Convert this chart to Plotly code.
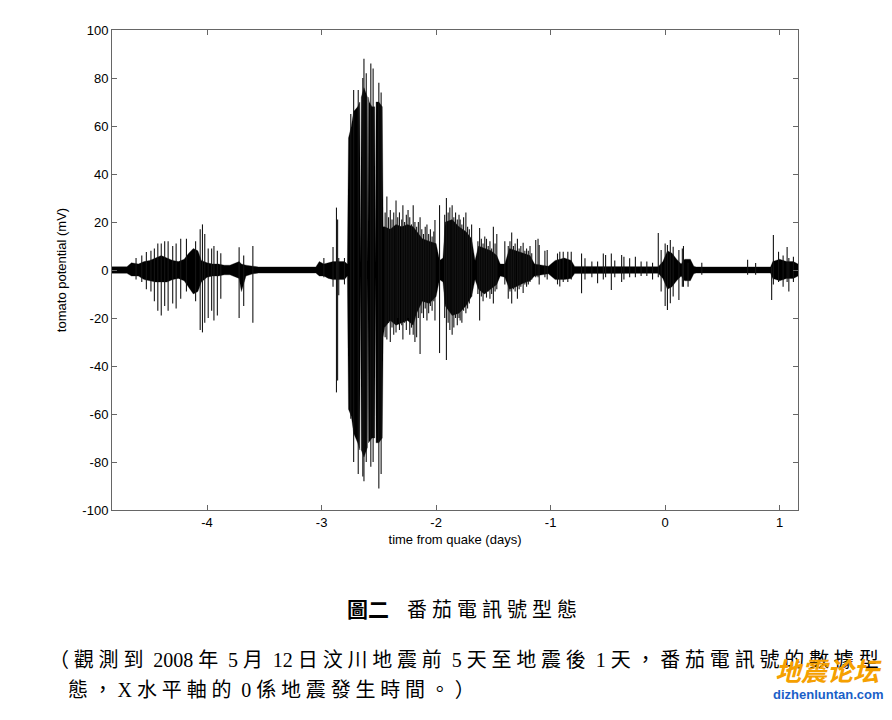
import re
import plotly.graph_objects as go

# ---- axis ticks ----
x_ticks = [-4, -3, -2, -1, 0, 1]
y_ticks = [-100, -80, -60, -40, -20, 0, 20, 40, 60, 80, 100]

# ---- dense signal envelope (days, upper mV, lower mV) ----
band_t = [-4.83, -4.70, -4.66, -4.60, -4.55, -4.50, -4.45, -4.40, -4.35, -4.30,
          -4.25, -4.20, -4.16, -4.12, -4.08, -4.05, -4.00, -3.95, -3.90, -3.85,
          -3.80, -3.72, -3.70, -3.66, -3.60, -3.55, -3.05, -3.02, -2.98, -2.94,
          -2.90, -2.86, -2.80, -2.775, -2.765, -2.74, -2.72, -2.685, -2.667, -2.660,
          -2.653, -2.63, -2.60, -2.596, -2.590, -2.584, -2.56, -2.536, -2.530, -2.524,
          -2.50, -2.47, -2.462, -2.45, -2.40, -2.35, -2.30, -2.25, -2.20, -2.17,
          -2.12, -2.06, -2.00, -1.97, -1.94, -1.92, -1.86, -1.80, -1.74, -1.69,
          -1.66, -1.63, -1.58, -1.52, -1.47, -1.44, -1.40, -1.36, -1.30, -1.24,
          -1.18, -1.14, -1.08, -1.02, -0.96, -0.88, -0.82, -0.79, -0.06, -0.02,
          0.02, 0.06, 0.10, 0.14, 0.17, 0.22, 0.25, 0.27, 0.92, 0.94,
          1.00, 1.06, 1.12, 1.16]
band_hi = [1.4, 1.4, 3.0, 2.5, 3.5, 4.0, 5.0, 6.0, 5.0, 4.0,
           3.5, 4.5, 7.0, 9.0, 8.0, 4.0, 3.0, 2.5, 2.5, 2.0,
           2.0, 3.5, 2.5, 2.0, 1.6, 1.3, 1.3, 3.5, 2.5, 3.0,
           3.5, 3.5, 3.5, 2.5, 55.0, 60.0, 66.0, 68.0, 70.0, 2.0,
           72.0, 76.0, 72.0, 2.0, 72.0, 70.0, 68.0, 68.0, 2.0, 70.0,
           70.0, 68.0, 18.0, 18.0, 17.0, 19.0, 18.0, 19.0, 18.0, 16.0,
           13.0, 12.0, 11.0, 4.0, 5.0, 20.0, 21.0, 18.0, 16.0, 13.0,
           4.0, 10.0, 9.0, 8.0, 6.0, 2.5, 2.5, 9.0, 8.0, 7.0,
           6.0, 2.5, 2.0, 1.6, 4.0, 5.0, 4.0, 1.5, 1.4, 3.5,
           8.0, 7.0, 4.5, 2.5, 4.5, 4.5, 1.6, 1.3, 1.3, 3.5,
           4.5, 3.5, 3.5, 2.5]
band_lo = [-1.4, -1.4, -2.5, -2.5, -4.0, -4.5, -5.0, -5.0, -5.0, -4.0,
           -3.5, -4.5, -7.0, -10.0, -9.0, -5.0, -3.0, -2.5, -2.5, -2.0,
           -2.0, -3.5, -9.0, -2.5, -1.6, -1.3, -1.3, -2.5, -2.5, -3.5,
           -4.0, -4.0, -4.0, -2.5, -58.0, -61.0, -68.0, -72.0, -75.0, -2.0,
           -75.0, -78.0, -74.0, -2.0, -72.0, -72.0, -70.0, -70.0, -2.0, -72.0,
           -72.0, -70.0, -28.0, -24.0, -21.0, -23.0, -22.0, -21.0, -23.0, -18.0,
           -13.0, -14.0, -11.0, -4.0, -5.0, -15.0, -19.0, -18.0, -15.0, -11.0,
           -4.0, -8.0, -10.0, -8.0, -6.0, -2.5, -3.0, -8.0, -7.0, -5.5,
           -4.5, -2.5, -2.0, -1.6, -4.0, -4.0, -3.5, -1.5, -1.4, -3.5,
           -8.0, -7.0, -4.5, -2.5, -4.5, -4.5, -1.6, -1.3, -1.3, -3.5,
           -4.5, -3.5, -3.5, -2.5]

# ---- individual spikes (days, peak mV, trough mV) ----
spike_t = [-4.62, -4.57, -4.53, -4.49, -4.46, -4.43, -4.40, -4.37, -4.34, -4.30,
           -4.27, -4.23, -4.18, -4.10, -4.06, -4.04, -4.02, -3.99, -3.96, -3.94,
           -3.91, -3.88, -3.72, -3.68, -3.60,
           -2.98, -2.90, -2.87, -2.86, -2.85, -2.80,
           -2.745, -2.72, -2.68, -2.64, -2.63, -2.61, -2.57, -2.55, -2.50, -2.48,
           -2.445, -2.43, -2.415, -2.40, -2.385, -2.37, -2.35, -2.335, -2.32, -2.30,
           -2.29, -2.275, -2.26, -2.245, -2.23, -2.215, -2.20, -2.185, -2.17, -2.155,
           -2.14, -2.125, -2.11, -2.095, -2.08, -2.065, -2.05, -2.035, -2.02, -2.01,
           -1.97, -1.925, -1.91, -1.895, -1.88, -1.86, -1.845, -1.83, -1.815, -1.80,
           -1.79, -1.775, -1.76, -1.74, -1.725, -1.71, -1.69,
           -1.635, -1.62, -1.605, -1.59, -1.575, -1.56, -1.545, -1.53, -1.515, -1.50,
           -1.485, -1.47, -1.40,
           -1.37, -1.355, -1.34, -1.325, -1.31, -1.29, -1.275, -1.26, -1.24, -1.225,
           -1.21, -1.195, -1.18, -1.165, -1.13, -1.11, -1.10, -1.05, -1.03,
           -0.94, -0.92, -0.89, -0.85, -0.82, -0.73, -0.70, -0.64, -0.59, -0.54,
           -0.52, -0.47, -0.44, -0.38, -0.36, -0.31, -0.26, -0.21, -0.16, -0.11,
           -0.06, -0.035, 0.00, 0.02, 0.045, 0.07, 0.12, 0.15, 0.16, 0.20,
           0.32, 0.72, 0.79, 0.93, 0.945, 0.99, 1.03, 1.065, 1.08, 1.12]
spike_hi = [5, 6, 7.5, 8, 9, 11, 11, 12, 12, 10,
            11, 13, 13, 12, 17, 19, 15, 9, 9, 10,
            8, 7, 9.5, 6, 10,
            5, 9.6, 26, 21, 5, 5,
            65, 75, 75, 80, 88, 82, 86, 84, 78, 74,
            24, 30.6, 22, 25, 21, 24, 29, 22, 24, 21,
            27, 20, 23, 25, 22, 19, 27, 20, 18, 20,
            22, 17, 15, 18, 19, 15, 17, 14, 16, 20.8,
            27, 23, 30, 24, 26, 27, 22, 24, 21, 23,
            21, 19, 22, 24, 18, 17, 19,
            12, 17.5, 13, 11, 14, 13, 10, 12, 9, 18,
            11, 15, 12,
            10, 12, 15.6, 10, 11, 13, 9, 10, 11.4, 8,
            9, 8, 10, 7, 12.5, 13, 10.4, 8, 8.3,
            6.9, 7.6, 7.6, 7.6, 7.6, 6.9, 4.9, 3.5, 3.5, 6.9,
            6.2, 6.9, 4, 6.2, 5.5, 4.9, 5.5, 3.5, 3.5, 3,
            15.4, 8.3, 11, 10.4, 12.5, 9.7, 8.3, 9, 10, 3,
            3, 4.3, 2.9, 1.5, 14.6, 7.6, 6, 9.6, 5, 5.5]
spike_lo = [-4, -5, -8, -9, -13, -17, -19, -15, -17, -14,
            -16, -12, -9, -13, -25, -26, -22, -20, -17, -21,
            -19, -12, -20, -15, -22,
            -3, -7, -51, -46, -10.5, -6,
            -62, -80, -85, -86, -88, -80, -82, -80, -91, -85,
            -28, -29, -22, -30, -24, -27, -26, -20, -25, -23,
            -29, -22, -25, -20, -27, -24, -27, -30, -28, -20,
            -35, -18, -20, -16, -21, -18, -15, -17, -13, -21,
            -34.6, -20, -37.5, -22, -25, -27, -24, -20, -23, -20,
            -21, -22, -17, -18, -16, -14, -11,
            -10, -21, -11, -13, -10, -11.5, -9, -12, -10, -14,
            -9, -8, -6,
            -12, -9, -14, -8, -9, -12, -8, -7, -9.6, -6,
            -7, -6, -5, -4, -3, -3, -6, -3, -4,
            -6, -6.9, -5, -5, -4, -9.7, -4, -3, -5.5, -4,
            -3, -8.3, -3, -5, -4, -3, -3, -2.5, -2.5, -4,
            -3, -9, -15, -16.7, -13.9, -11, -12.5, -7, -7, -7,
            -2, -2, -2, -12.5, -6, -5, -7, -5, -9, -5]

# ---- caption texts ----
fig_label = "圖二"
fig_title = "番茄電訊號型態"
caption_1 = "（觀測到 2008 年 5 月 12 日汶川地震前 5 天至地震後 1 天，番茄電訊號的數據型"
caption_2 = "態，X 水平軸的 0 係地震發生時間。）"
mark_cn = "地震论坛"
mark_en = "dizhenluntan.com"

fig = go.Figure()

# dense envelope as a filled region
fig.add_trace(go.Scatter(
    x=band_t + band_t[::-1],
    y=band_hi + band_lo[::-1],
    mode="lines", fill="toself", fillcolor="black",
    line=dict(color="black", width=0.3),
    hoverinfo="skip", showlegend=False))

# spikes as vertical segments
sx, sy = [], []
for t, hi, lo in zip(spike_t, spike_hi, spike_lo):
    sx += [t, t, None]
    sy += [lo, hi, None]
fig.add_trace(go.Scatter(
    x=sx, y=sy, mode="lines",
    line=dict(color="#151515", width=1.1),
    hoverinfo="skip", showlegend=False))

tick_font = dict(family="Liberation Sans, Arial", size=13, color="black")
axis_common = dict(
    showline=True, mirror="ticks", linecolor="#666", linewidth=1,
    ticks="inside", ticklen=5, tickcolor="#666",
    showgrid=False, zeroline=False, tickfont=tick_font)

fig.update_xaxes(range=[-4.83, 1.16], tickvals=x_ticks,
                 ticktext=[str(v) for v in x_ticks],
                 title=dict(text="time from quake (days)", standoff=6, font=tick_font),
                 **axis_common)
fig.update_yaxes(range=[-100, 100], tickvals=y_ticks,
                 ticktext=[str(v) for v in y_ticks],
                 title=dict(text="tomato potential (mV)", standoff=12, font=tick_font),
                 **axis_common)


def spaced(s, px=5):
    """Widen the spacing of CJK runs, as in the printed caption."""
    return re.sub(r"([^\x00-\x7f]+)",
                  lambda m: '<span style="letter-spacing:%gpx">%s</span>' % (px, m.group(1)),
                  s)


# page is rendered with an 8px body margin; positions below are in window pixels
OFF = 8
W, H = 892 - OFF, 720 - OFF
L, T = 112 - OFF, 30 - OFF
pw, ph = 686, 480
R, B = W - L - pw, H - T - ph

body = "Liberation Serif, Noto Sans CJK TC"
cjk = "Noto Sans CJK TC"
annotations = [
    dict(text="<b>%s</b>" % fig_label, x=345, y=608, xanchor="left",
         font=dict(family=cjk, size=21, color="black")),
    dict(text=spaced(fig_title), x=405, y=608, xanchor="left",
         font=dict(family=cjk, size=20, color="black")),
    dict(text=spaced(caption_1, 4.8), x=47, y=660, xanchor="left",
         font=dict(family=body, size=20, color="black")),
    dict(text=spaced(caption_2, 4.8), x=66, y=690, xanchor="left",
         font=dict(family=body, size=20, color="black")),
    dict(text="<b><i>%s</i></b>" % mark_cn, x=828, y=669, xanchor="center",
         font=dict(family=cjk, size=26, color="#f5a000")),
    dict(text="<b>%s</b>" % mark_en, x=828, y=694, xanchor="center",
         font=dict(family="Liberation Sans, Arial", size=13, color="#1a5fc8")),
]
for a in annotations:
    px, py = a.pop("x"), a.pop("y")
    a["x"] = (px - OFF - L) / pw
    a["y"] = (H - B - (py - OFF)) / ph
    a["xref"] = "paper"
    a["yref"] = "paper"
    a["showarrow"] = False
    a["yanchor"] = "middle"

fig.update_layout(
    width=W, height=H,
    margin=dict(l=L, r=R, t=T, b=B),
    paper_bgcolor="white", plot_bgcolor="white",
    annotations=annotations,
    showlegend=False)

fig.write_html("out.html")
